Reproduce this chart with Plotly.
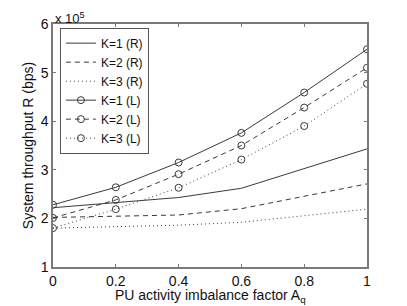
import plotly.graph_objects as go

x = [0, 0.2, 0.4, 0.6, 0.8, 1.0]
k1_R = [2.22, 2.33, 2.43, 2.62, 3.02, 3.43]
k2_R = [2.02, 2.05, 2.07, 2.20, 2.45, 2.71]
k3_R = [1.80, 1.83, 1.86, 1.92, 2.05, 2.19]
k1_L = [2.28, 2.64, 3.15, 3.76, 4.59, 5.48]
k2_L = [2.01, 2.38, 2.91, 3.50, 4.28, 5.10]
k3_L = [1.80, 2.19, 2.63, 3.21, 3.90, 4.77]
scale = 1e5

names = ["K=1 (R)", "K=2 (R)", "K=3 (R)", "K=1 (L)", "K=2 (L)", "K=3 (L)"]
series = [k1_R, k2_R, k3_R, k1_L, k2_L, k3_L]
dashes = ["solid", "5px,4px", "1px,3px", "solid", "5px,4px", "1px,3px"]
markers = [False, False, False, True, True, True]

fig = go.Figure()
col = "#3a3a3a"
for n, s, d, m in zip(names, series, dashes, markers):
    fig.add_trace(go.Scatter(
        x=x, y=[v * scale for v in s], name=n,
        mode="lines+markers" if m else "lines",
        line=dict(color=col, width=1, dash=d),
        marker=dict(symbol="circle-open", size=7, color=col, line=dict(width=1)) if m else None,
    ))

axis_col = "#7a7a7a"
fig.update_layout(
    width=399, height=298,
    margin=dict(l=45, r=40, t=16, b=39),
    paper_bgcolor="white", plot_bgcolor="white",
    font=dict(family="Liberation Sans, Arial, sans-serif", size=14, color="#111"),
    showlegend=True,
    legend=dict(x=0.022, y=0.985, xanchor="left", yanchor="top",
                bordercolor="#555", borderwidth=1, bgcolor="white",
                font=dict(size=12), tracegroupgap=0, itemwidth=30),
    xaxis=dict(range=[0, 1], tickvals=[0, 0.2, 0.4, 0.6, 0.8, 1],
               ticktext=["0", "0.2", "0.4", "0.6", "0.8", "1"],
               ticks="inside", ticklen=3, tickcolor=axis_col,
               showline=True, linecolor=axis_col, linewidth=1.5, mirror="ticks",
               showgrid=False, zeroline=False, automargin=False),
    yaxis=dict(range=[1e5, 6e5], tickvals=[1e5, 2e5, 3e5, 4e5, 5e5, 6e5],
               ticktext=["1", "2", "3", "4", "5", "6"],
               ticks="inside", ticklen=3, tickcolor=axis_col,
               showline=True, linecolor=axis_col, linewidth=1.5, mirror="ticks",
               showgrid=False, zeroline=False, automargin=False,
               title=dict(text="System throughput R (bps)", standoff=4,
                          font=dict(size=14))),
    annotations=[
        dict(text="x 10<sup>5</sup>", xref="paper", yref="paper",
             x=0.0, y=1.0, xanchor="left", yanchor="bottom", yshift=-4,
             showarrow=False, font=dict(size=13)),
        dict(text="PU activity imbalance factor A<sub>q</sub>", xref="paper", yref="paper",
             x=0.5, y=-0.075, xanchor="center", yanchor="top",
             showarrow=False, font=dict(size=14)),
    ],
)
fig.write_html("out.html")
